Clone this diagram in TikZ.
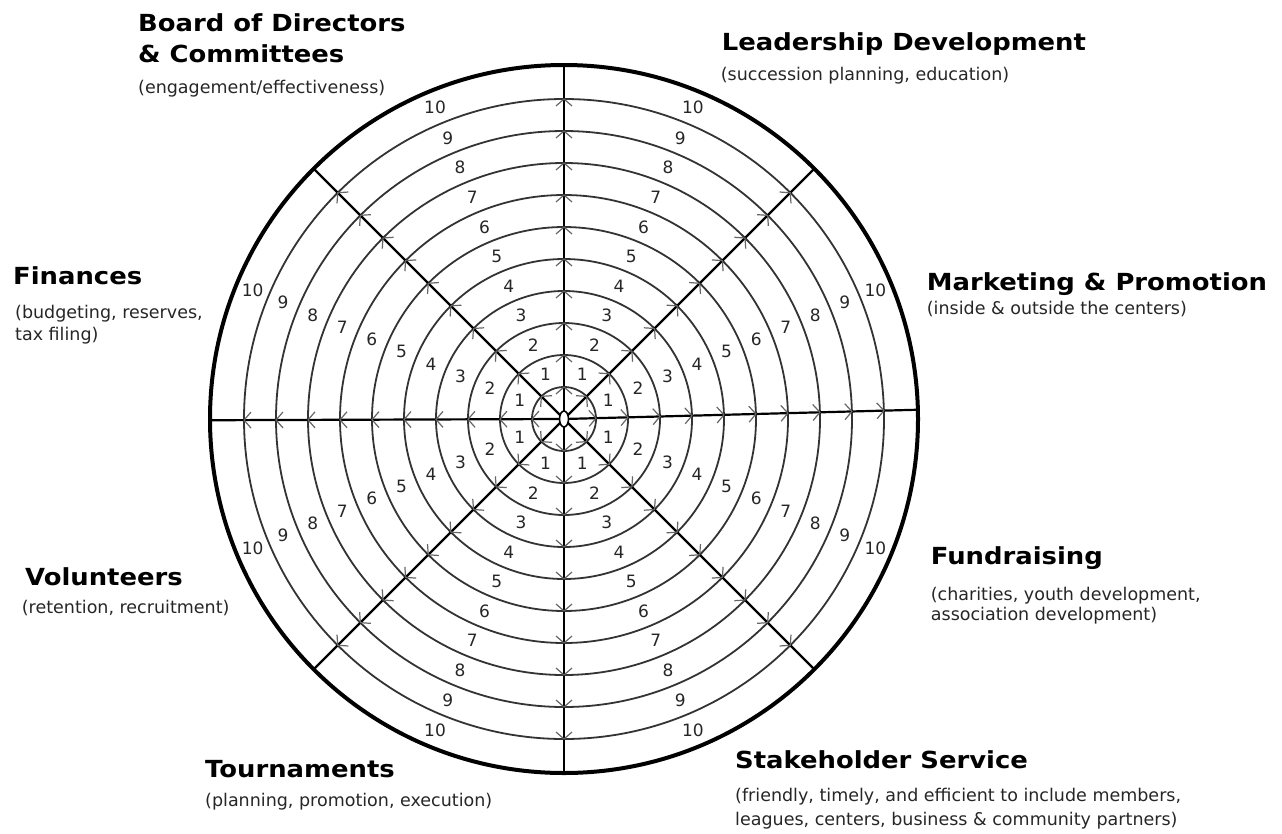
\documentclass[tikz,border=0pt]{standalone}
\usepackage{fontspec}
\setmainfont{DejaVu Sans}
\newfontfamily\hbfont[FakeStretch=1.1]{DejaVu Sans}
\begin{document}
\begin{tikzpicture}[x=1pt,y=-1pt,
  title/.style={anchor=base west,inner sep=0pt,font=\hbfont\bfseries\fontsize{23.5}{28}\selectfont,text=black},
  sub/.style={anchor=base west,inner sep=0pt,font=\fontsize{17.5}{21}\selectfont,text=black!85},
  num/.style={inner sep=0pt,font=\fontsize{17}{20}\selectfont,text=black!85},
  ring/.style={draw=black!80,line width=1.8pt},
  spoke/.style={draw=black,line width=2.2pt},
  chev/.style={draw=black!60,line width=1.2pt},
  rim/.style={draw=black,line width=4pt}]
\useasboundingbox (0,0) rectangle (1282,833);
\begin{scope}[shift={(564,419)}]
  \foreach \k in {1,...,10} \draw[ring] (0,0) circle[radius=32*\k];
  \draw[rim] (0,0) circle[radius=354];
  \foreach \t in {1.5,45,90,135,180.2,225,270,315}{
    \draw[spoke,rotate=\t] (0,0) -- (354,0);
    \foreach \k in {1,...,10}
      \draw[chev,rotate=\t] ({32*\k-7},-8) -- ({32*\k},0) -- ({32*\k-7},8);
  }
  \draw[fill=white,line width=1.6pt] (0,0) ellipse[x radius=4.5, y radius=8];
  \foreach \t [count=\i] in {22.5,67.5,112.5,157.5,202.5,247.5,292.5,337.5}{
    \foreach \k in {1,...,9}
      \node[num] (n\i-\k) at ({-\t}:{32*\k+16}) {\k};
    \node[num] (n\i-10) at ({-\t}:337) {10};
  }
\end{scope}
% labels
\node[title] (bd1) at (138,31.7) {Board of Directors};
\node[title] (bd2) at (138,62.7) {\& Committees};
\node[sub] (bd3) at (138,93) {(engagement/effectiveness)};
\node[title] (ld1) at (721.7,50.7) {Leadership Development};
\node[sub] (ld2) at (720.7,80) {(succession planning, education)};
\node[title] (fi1) at (13,284) {Finances};
\node[sub] (fi2) at (15,318) {(budgeting, reserves,};
\node[sub] (fi3) at (15,340) {tax filing)};
\node[title] (mk1) at (926.7,290.7) {Marketing \& Promotion};
\node[sub] (mk2) at (926.7,314) {(inside \& outside the centers)};
\node[title] (fr1) at (930.7,564) {Fundraising};
\node[sub] (fr2) at (930.7,600.7) {(charities, youth development,};
\node[sub] (fr3) at (930.7,620.7) {association development)};
\node[title] (vo1) at (25,585.7) {Volunteers};
\node[sub] (vo2) at (21.7,613) {(retention, recruitment)};
\node[title] (to1) at (205,777) {Tournaments};
\node[sub] (to2) at (205,806.7) {(planning, promotion, execution)};
\node[title] (st1) at (735,768) {Stakeholder Service};
\node[sub] (st2) at (735,801.7) {(friendly, timely, and efficient to include members,};
\node[sub] (st3) at (735,825) {leagues, centers, business \& community partners)};
\end{tikzpicture}
\end{document}
